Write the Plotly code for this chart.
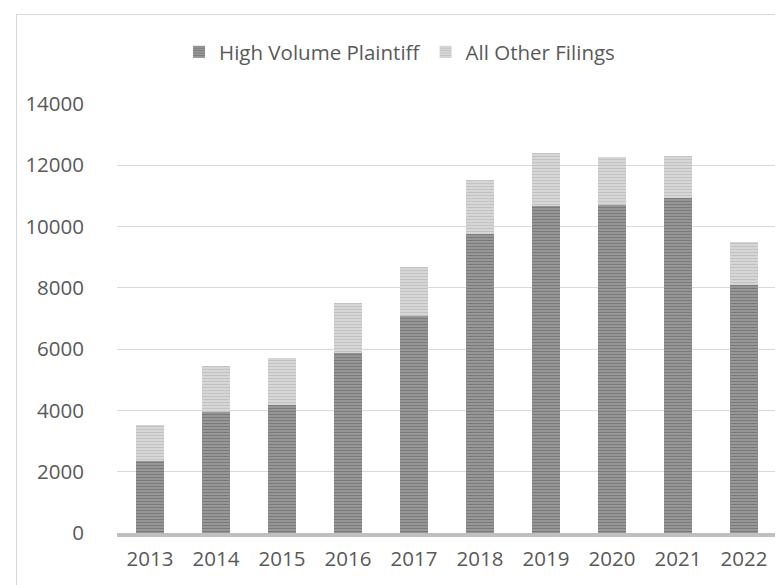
import plotly.graph_objects as go

years = ["2013", "2014", "2015", "2016", "2017", "2018", "2019", "2020", "2021", "2022"]
high_volume = [2350, 3950, 4180, 5880, 7070, 9760, 10670, 10720, 10920, 8100]
all_other = [1170, 1490, 1520, 1620, 1600, 1760, 1740, 1540, 1380, 1410]
y_ticks = [0, 2000, 4000, 6000, 8000, 10000, 12000, 14000]
y_tick_text = ["0", "2000", "4000", "6000", "8000", "10000", "12000", "14000"]

FONT = "Open Sans, Liberation Sans, sans-serif"
TXT = "#595959"
FS = 20.5

fig = go.Figure()
fig.add_trace(go.Bar(
    x=years, y=high_volume, name="High Volume Plaintiff",
    marker=dict(color="#8a8a8a", line=dict(width=0),
                pattern=dict(shape="-", fgcolor="#4d4d4d", bgcolor="#a8a8a8",
                             size=3, solidity=0.6, fillmode="overlay")),
))
fig.add_trace(go.Bar(
    x=years, y=all_other, name="All Other Filings",
    marker=dict(color="#c8c8c8", line=dict(width=0),
                pattern=dict(shape="-", fgcolor="#a0a0a0", bgcolor="#e4e4e4",
                             size=3, solidity=0.6, fillmode="overlay")),
))

pw = 660.0
ph = 429.0
fig.update_layout(
    barmode="stack",
    bargap=0.59,
    width=783, height=585,
    margin=dict(l=109, r=14, t=96, b=60),
    plot_bgcolor="white", paper_bgcolor="white",
    font=dict(family=FONT, size=FS, color=TXT),
    showlegend=True,
    legend=dict(orientation="h", x=0.094, xanchor="left", y=(525 - 44) / ph, yanchor="middle",
                font=dict(family=FONT, size=FS, color=TXT), traceorder="normal",
                bgcolor="rgba(0,0,0,0)"),
    xaxis=dict(showgrid=False, showline=True, linecolor="#bfbfbf", linewidth=3.5,
               ticks="", tickfont=dict(size=FS, color=TXT), ticklabelstandoff=5),
    yaxis=dict(range=[0, 14000], tickvals=y_ticks, ticktext=y_tick_text,
               showgrid=True, gridcolor="#d9d9d9",
               gridwidth=1, zeroline=False, showline=False, ticks="",
               tickfont=dict(size=FS, color=TXT), ticklabelstandoff=32),
    shapes=[
        dict(type="line", xref="paper", yref="paper",
             x0=(8 - 109) / pw, x1=(800 - 109) / pw,
             y0=(525 - 6.5) / ph, y1=(525 - 6.5) / ph,
             line=dict(color="#d9d9d9", width=1)),
        dict(type="line", xref="paper", yref="paper",
             x0=(8.5 - 109) / pw, x1=(8.5 - 109) / pw,
             y0=(525 - 6) / ph, y1=(525 - 600) / ph,
             line=dict(color="#d9d9d9", width=1)),
    ],
)

fig.write_html("out.html")
